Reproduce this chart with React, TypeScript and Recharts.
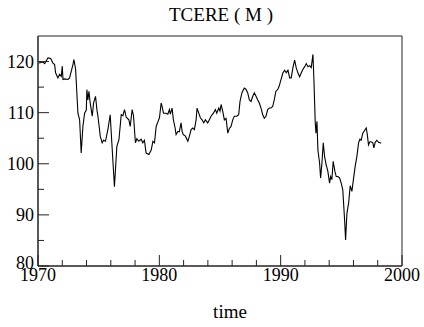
import { LineChart, Line, XAxis, YAxis, ReferenceArea } from 'recharts';

// time (decimal years) and index values
const times = [
  1970.08, 1970.41, 1970.55, 1970.82, 1971.04, 1971.23, 1971.37, 1971.45, 1971.64, 1971.78,
  1971.92, 1972.0, 1972.06, 1972.19, 1972.47, 1972.6, 1972.74, 1972.88, 1972.96, 1973.1,
  1973.29, 1973.43, 1973.56, 1973.7, 1973.84, 1973.98, 1974.03, 1974.11, 1974.2, 1974.3,
  1974.47, 1974.58, 1974.74, 1974.86, 1974.94, 1975.07, 1975.13, 1975.29, 1975.4, 1975.56,
  1975.76, 1975.95, 1976.12, 1976.3, 1976.5, 1976.67, 1976.86, 1977.0, 1977.13, 1977.27,
  1977.49, 1977.6, 1977.76, 1977.87, 1978.03, 1978.15, 1978.31, 1978.5, 1978.64, 1978.77,
  1978.91, 1979.14, 1979.33, 1979.47, 1979.6, 1979.74, 1979.88, 1980.01, 1980.15, 1980.23,
  1980.34, 1980.56, 1980.7, 1980.83, 1980.91, 1981.05, 1981.16, 1981.3, 1981.38, 1981.52,
  1981.65, 1981.79, 1981.88, 1981.98, 1982.15, 1982.35, 1982.48, 1982.62, 1982.76, 1982.89,
  1983.03, 1983.11, 1983.25, 1983.38, 1983.52, 1983.66, 1983.79, 1983.99, 1984.12, 1984.26,
  1984.45, 1984.62, 1984.73, 1984.9, 1985.0, 1985.09, 1985.23, 1985.36, 1985.5, 1985.64,
  1985.77, 1985.91, 1986.05, 1986.18, 1986.38, 1986.54, 1986.65, 1986.81, 1987.0, 1987.14,
  1987.28, 1987.42, 1987.56, 1987.7, 1987.83, 1987.97, 1988.11, 1988.24, 1988.38, 1988.52,
  1988.65, 1988.79, 1988.93, 1989.06, 1989.2, 1989.34, 1989.47, 1989.61, 1989.75, 1989.88,
  1990.02, 1990.19, 1990.33, 1990.46, 1990.6, 1990.74, 1990.87, 1991.01, 1991.15, 1991.28,
  1991.42, 1991.56, 1991.7, 1991.84, 1991.98, 1992.11, 1992.25, 1992.39, 1992.52, 1992.66,
  1992.74, 1992.85, 1992.91, 1992.99, 1993.07, 1993.21, 1993.29, 1993.4, 1993.51, 1993.62,
  1993.75, 1993.89, 1994.03, 1994.12, 1994.22, 1994.33, 1994.47, 1994.58, 1994.72, 1994.86,
  1994.99, 1995.12, 1995.27, 1995.35, 1995.46, 1995.6, 1995.73, 1995.87, 1996.01, 1996.14,
  1996.28, 1996.42, 1996.53, 1996.63, 1996.77, 1996.91, 1997.05, 1997.13, 1997.24, 1997.35,
  1997.46, 1997.6, 1997.68, 1997.79, 1997.93, 1998.07, 1998.2, 1998.28,
];

const tcere = [
  119.7, 119.9, 119.6, 120.7, 120.6, 119.7, 119.4, 117.8, 116.8, 117.5,
  117.1, 119.1, 116.5, 116.6, 116.5, 116.8, 118.1, 119.4, 120.4, 118.5,
  109.9, 108.6, 102.1, 107.3, 109.9, 110.5, 114.5, 112.5, 114.2, 111.9,
  109.3, 111.9, 113.2, 110.5, 109.3, 106.7, 105.4, 104.1, 104.6, 104.4,
  106.7, 109.6, 102.7, 95.5, 103.4, 104.7, 109.6, 109.4, 110.6, 109.1,
  108.6, 107.3, 110.6, 109.4, 104.1, 104.9, 104.4, 104.8, 104.1, 104.6,
  102.1, 101.8, 102.7, 104.4, 104.1, 107.3, 108.2, 109.0, 111.9, 111.2,
  109.9, 109.9, 109.7, 110.6, 109.7, 110.9, 108.6, 107.0, 105.7, 106.3,
  106.3, 108.0, 106.3, 105.7, 105.4, 104.4, 105.4, 106.7, 107.0, 106.7,
  108.6, 110.9, 109.9, 109.0, 108.6, 108.0, 108.6, 108.0, 108.6, 109.3,
  109.9, 110.6, 109.9, 110.9, 110.3, 111.6, 110.2, 108.6, 108.9, 106.0,
  106.9, 107.3, 108.6, 109.3, 109.3, 109.6, 112.2, 113.9, 114.8, 114.6,
  113.9, 112.5, 112.2, 113.2, 113.9, 113.2, 112.5, 111.9, 110.9, 109.6,
  108.9, 109.3, 110.6, 110.9, 110.9, 111.2, 112.5, 114.2, 114.5, 115.2,
  116.4, 117.8, 118.3, 117.8, 118.3, 116.8, 116.8, 118.8, 120.3, 118.8,
  117.8, 117.0, 117.8, 118.5, 119.0, 119.6, 119.0, 119.2, 118.8, 121.4,
  116.5, 108.0, 106.0, 108.3, 102.7, 100.1, 97.2, 100.1, 104.1, 101.4,
  99.8, 98.5, 96.2, 97.5, 96.9, 100.5, 98.5, 97.5, 97.5, 97.2,
  96.2, 94.9, 89.0, 85.1, 90.3, 92.3, 95.7, 94.6, 97.2, 99.5,
  101.4, 104.1, 104.8, 104.6, 106.0, 106.5, 107.0, 105.9, 103.7, 104.3,
  104.3, 104.1, 103.1, 104.2, 104.6, 104.2, 104.1, 104.0,
];

const xTicks = [1970, 1972, 1974, 1976, 1978, 1980, 1982, 1984, 1986, 1988, 1990, 1992, 1994, 1996, 1998, 2000];
const xMajor = [1970, 1980, 1990, 2000];
const yTicks = [80, 85, 90, 95, 100, 105, 110, 115, 120];
const yMajor = [80, 90, 100, 110, 120];

const chartData = times.map((t, i) => ({ time: t, value: tcere[i] }));

const serif = {
  fontFamily: "'Times New Roman', Times, 'Liberation Serif', Tinos, 'Nimbus Roman', 'Noto Serif', 'DejaVu Serif', serif",
};

const XTick = (props: any) => {
  const { x, y, payload } = props;
  const major = xMajor.includes(payload.value);
  return (
    <g>
      <line x1={x} x2={x} y1={y} y2={y - (major ? 11 : 6)} stroke="#222" />
      {major && (
        <text x={x} y={y + 15} textAnchor="middle" style={serif} fontSize={18} fill="#000">
          {payload.value}
        </text>
      )}
    </g>
  );
};

const YTick = (props: any) => {
  const { x, y, payload } = props;
  const major = yMajor.includes(payload.value);
  // the bottom label sits a bit higher, as in the reference
  const dy = payload.value === 80 ? 3 : 6;
  return (
    <g>
      <line x1={x} x2={x + (major ? 11 : 6)} y1={y} y2={y} stroke="#222" />
      {major && (
        <text x={x - 4} y={y + dy} textAnchor="end" style={serif} fontSize={18} fill="#000">
          {payload.value}
        </text>
      )}
    </g>
  );
};

export default function App() {
  return (
    <div style={{ position: 'absolute', left: 0, top: 0, width: 424, height: 327, background: '#fff' }}>
      <LineChart width={424} height={327} data={chartData} margin={{ top: 36, right: 22, bottom: 0, left: 0 }}>
        <text x={221} y={21} textAnchor="middle" style={serif} fontSize={19} fill="#000">
          TCERE ( M )
        </text>
        <text x={230} y={318} textAnchor="middle" style={serif} fontSize={19} fill="#000">
          time
        </text>
        <XAxis
          dataKey="time"
          type="number"
          domain={[1970, 2000]}
          ticks={xTicks}
          interval={0}
          height={61}
          tickSize={0}
          tickMargin={0}
          tickLine={false}
          axisLine={{ stroke: '#222' }}
          tick={<XTick />}
          allowDataOverflow
        />
        <YAxis
          type="number"
          domain={[80, 125]}
          ticks={yTicks}
          interval={0}
          width={38}
          tickSize={0}
          tickMargin={0}
          tickLine={false}
          axisLine={{ stroke: '#222' }}
          tick={<YTick />}
          allowDataOverflow
        />
        <ReferenceArea x1={1970} x2={2000} y1={80} y2={125} fill="none" stroke="#222" strokeWidth={1} ifOverflow="visible" />
        <Line
          dataKey="value"
          type="linear"
          stroke="#000"
          strokeWidth={1.1}
          dot={false}
          isAnimationActive={false}
        />
      </LineChart>
    </div>
  );
}
